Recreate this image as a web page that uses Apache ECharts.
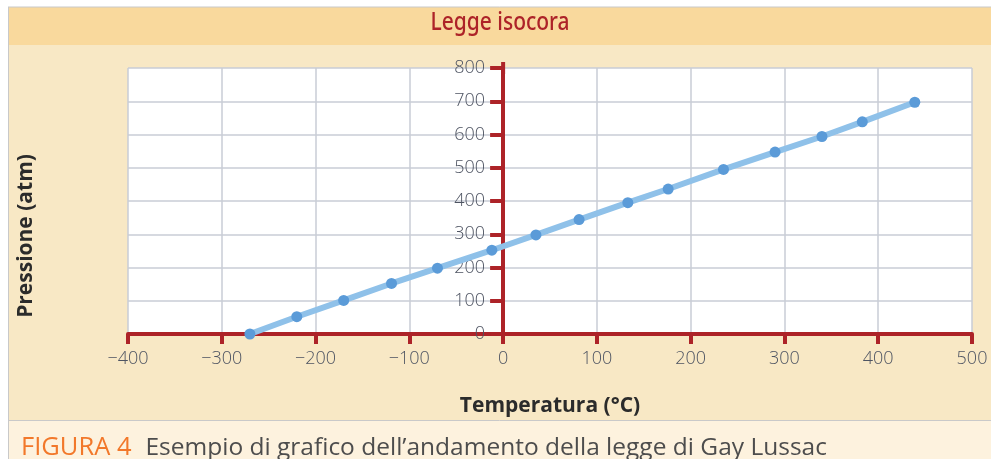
<!DOCTYPE html>
<html>
<head>
<meta charset="utf-8">
<script src="https://cdn.jsdelivr.net/npm/echarts@6/dist/echarts.min.js"></script>
<style>
html, body { margin: 0; padding: 0; background: #fff; }
#main { width: 991px; height: 459px; }
</style>
</head>
<body>
<div id="main"></div>
<script>
// temperatura (°C) e pressione (atm)
const temperatura = [-270, -220, -170, -119, -70, -12, 35, 81, 133, 176, 235, 290, 340, 383, 439]
const pressione = [0, 52, 101, 152, 198, 252, 298, 344, 395, 436, 495, 547, 594, 638, 697]

const titolo = "Legge isocora"
const nomeX = "Temperatura (°C)"
const nomeY = "Pressione (atm)"
const figura = "FIGURA 4"
const didascalia = "Esempio di grafico dell’andamento della legge di Gay Lussac"

const rosso = "#ad2328"
const grigioTesto = "#4e5462"
const gridLeft = 128

const punti = temperatura.map((t, i) => [t, pressione[i]])

const chart = echarts.init(document.getElementById('main'))

const option = {
	animation: false,
	backgroundColor: '#fff',
	graphic: [
		// fasce di sfondo
		{ type: 'rect', z: -10, shape: { x: 8, y: 7, width: 983, height: 38 }, style: { fill: '#f9d99d' } },
		{ type: 'rect', z: -10, shape: { x: 8, y: 45, width: 983, height: 375 }, style: { fill: '#f8e8c5' } },
		{ type: 'rect', z: -10, shape: { x: 8, y: 420, width: 983, height: 39 }, style: { fill: '#fdf2de' } },
		{ type: 'line', z: -9, shape: { x1: 8, y1: 7, x2: 991, y2: 7 }, style: { stroke: '#c9c9c9', lineWidth: 1 } },
		{ type: 'line', z: -9, shape: { x1: 8.5, y1: 7, x2: 8.5, y2: 459 }, style: { stroke: '#c9c9c9', lineWidth: 1 } },
		{ type: 'line', z: -9, shape: { x1: 8, y1: 420.5, x2: 991, y2: 420.5 }, style: { stroke: '#c9c9c9', lineWidth: 1 } },
		{
			type: 'text', x: 500, y: 23, scaleX: 0.84, originX: 0,
			style: { text: titolo, fill: rosso, fontSize: 25, fontFamily: '"Noto Sans", sans-serif', fontWeight: 500, align: 'center', verticalAlign: 'middle' }
		},
		{
			type: 'text', x: 550, y: 406,
			style: { text: nomeX, fill: '#2b2b2b', fontSize: 21, fontWeight: 'bold', fontFamily: '"Open Sans", sans-serif', align: 'center', verticalAlign: 'middle' }
		},
		{
			type: 'text', x: 26, y: 236, rotation: Math.PI / 2,
			style: { text: nomeY, fill: '#2b2b2b', fontSize: 21, fontWeight: 'bold', fontFamily: '"Open Sans", sans-serif', align: 'center', verticalAlign: 'middle' }
		},
		{
			type: 'text', x: 21, y: 448,
			style: {
				text: '{a|' + figura + '}{b|' + didascalia + '}',
				verticalAlign: 'middle',
				rich: {
					a: { fill: '#f2782a', fontSize: 25.5, fontFamily: '"Open Sans", sans-serif', padding: [0, 14, 0, 0] },
					b: { fill: '#4d4d4d', fontSize: 24.5, fontFamily: '"Open Sans", sans-serif' }
				}
			}
		}
	],
	grid: {
		left: gridLeft,
		right: 19,
		top: 68,
		bottom: 125,
		show: true,
		backgroundColor: '#fff',
		borderWidth: 0
	},
	xAxis: {
		type: 'value',
		min: -400,
		max: 500,
		interval: 100,
		axisLine: { onZero: false, lineStyle: { color: rosso, width: 4 } },
		axisTick: { length: 10, lineStyle: { color: rosso, width: 4 } },
		axisLabel: {
			margin: 16,
			color: grigioTesto,
			fontSize: 18,
			fontWeight: 300,
			fontFamily: '"Open Sans", sans-serif',
			formatter: v => v < 0 ? '−' + Math.abs(v) : '' + v
		},
		splitLine: { show: true, lineStyle: { color: '#c9cdd6', width: 1.5 } }
	},
	yAxis: {
		type: 'value',
		min: 0,
		max: 800,
		interval: 100,
		axisLine: {
			onZero: false,
			symbol: ['none', 'rect'],
			symbolSize: [4, 12],
			lineStyle: { color: rosso, width: 4 }
		},
		axisTick: { length: 13, lineStyle: { color: rosso, width: 4 } },
		axisLabel: {
			margin: 18,
			color: grigioTesto,
			fontSize: 18,
			fontWeight: 300,
			fontFamily: '"Open Sans", sans-serif',
			padding: [5, 0, 0, 0]
		},
		splitLine: { show: true, lineStyle: { color: '#c9cdd6', width: 1.5 } }
	},
	series: [{
		type: 'line',
		data: punti,
		symbol: 'circle',
		symbolSize: 11,
		lineStyle: { color: '#8fc1e9', width: 6 },
		itemStyle: { color: '#5b9bd8' },
		z: 1
	}]
}

chart.setOption(option)

// asse y sullo zero delle temperature
const zeroX = chart.convertToPixel({ xAxisIndex: 0 }, 0)
chart.setOption({ yAxis: { offset: -(zeroX - gridLeft) } })
</script>
</body>
</html>
